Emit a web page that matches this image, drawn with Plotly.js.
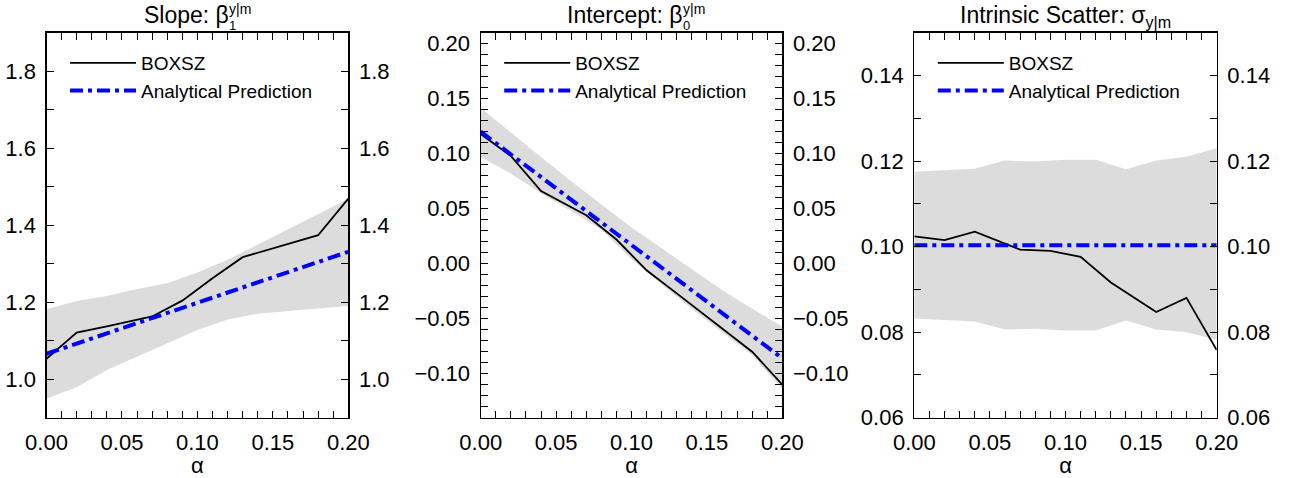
<!DOCTYPE html>
<html>
<head>
<meta charset="utf-8">
<script src="https://cdn.plot.ly/plotly-3.0.1.min.js"></script>
<style>html,body{margin:0;padding:0;background:#fff;}#chart{width:1292px;height:478px;}</style>
</head>
<body>
<div id="chart"></div>
<script>
// ---- data ----
const alphaLine = [0, 0.02, 0.04, 0.07, 0.09, 0.11, 0.13, 0.16, 0.18, 0.20];
const alphaPred = [0, 0.20];
const alphaBand = [0, 0.02, 0.04, 0.06, 0.08, 0.10, 0.12, 0.14, 0.16, 0.18, 0.20];

const slopeBoxsz = [1.053, 1.121, 1.137, 1.163, 1.204, 1.262, 1.317, 1.352, 1.374, 1.469];
const slopePred  = [1.066, 1.331];
const slopeLow   = [0.950, 0.979, 1.024, 1.059, 1.093, 1.128, 1.155, 1.170, 1.177, 1.184, 1.190];
const slopeHigh  = [1.182, 1.203, 1.216, 1.234, 1.249, 1.277, 1.310, 1.350, 1.390, 1.430, 1.469];

const interceptBoxsz = [0.118, 0.098, 0.066, 0.044, 0.022, -0.006, -0.027, -0.059, -0.080, -0.110];
const interceptPred  = [0.120, -0.086];
const interceptLow   = [0.097, 0.082, 0.064, 0.048, 0.031, 0.004, -0.019, -0.041, -0.062, -0.083, -0.114];
const interceptHigh  = [0.1415, 0.119, 0.097, 0.075, 0.054, 0.033, 0.014, -0.005, -0.024, -0.041, -0.057];

const scatterBoxsz = [0.1024, 0.1015, 0.1035, 0.0993, 0.0990, 0.0976, 0.0916, 0.0847, 0.0880, 0.0758];
const scatterPred  = [0.1003, 0.1003];
const scatterLow   = [0.0832, 0.0828, 0.0825, 0.0806, 0.0808, 0.0804, 0.0804, 0.0827, 0.0806, 0.0800, 0.0782];
const scatterHigh  = [0.1175, 0.1178, 0.1182, 0.1201, 0.1199, 0.1203, 0.1203, 0.1181, 0.1201, 0.1210, 0.1230];

const names = ["BOXSZ", "Analytical Prediction"];
const xTickLabels = ["0.00", "0.05", "0.10", "0.15", "0.20"];

// ---- layout helpers ----
const W = 1292, H = 478;
const FONT = "Liberation Sans, Arial, Helvetica, sans-serif";
const px = p => p / W;
const py = p => 1 - p / H;
const yDom = [py(417.7), py(32.7)];
const xDoms = [[px(46.5), px(348.3)], [px(480.7), px(782.3)], [px(914.3), px(1216.7)]];

const panels = [
  {low: slopeLow, high: slopeHigh, box: slopeBoxsz, pred: slopePred, range: [0.9, 1.9], dtick: 0.2, minor: 0.1, fmt: ".1f"},
  {low: interceptLow, high: interceptHigh, box: interceptBoxsz, pred: interceptPred, range: [-0.14, 0.21], dtick: 0.05, minor: 0.01, fmt: ".2f"},
  {low: scatterLow, high: scatterHigh, box: scatterBoxsz, pred: scatterPred, range: [0.06, 0.15], dtick: 0.02, minor: 0.01, fmt: ".2f"}
];

const traces = [];
const layout = {
  width: W, height: H,
  margin: {l: 0, r: 0, t: 0, b: 0},
  paper_bgcolor: "#fff", plot_bgcolor: "#fff",
  font: {family: FONT, color: "#000", size: 21},
  showlegend: true,
  annotations: []
};

const tickStyle = {ticks: "inside", ticklen: 7, tickwidth: 1, tickcolor: "#000"};

panels.forEach((p, i) => {
  const n = i + 1;
  const xa = n === 1 ? "x" : "x" + n;
  const ya = n === 1 ? "y" : "y" + n;
  const yr = "y" + (n + 3);
  const xt = "x" + (n + 3);
  const leg = n === 1 ? "legend" : "legend" + n;
  traces.push({x: alphaBand, y: p.low, xaxis: xa, yaxis: ya, mode: "lines", line: {width: 0, color: "rgba(0,0,0,0)"}, showlegend: false, hoverinfo: "skip"});
  traces.push({x: alphaBand, y: p.high, xaxis: xa, yaxis: ya, mode: "lines", fill: "tonexty", fillcolor: "#dcdcdc", line: {width: 0, color: "rgba(0,0,0,0)"}, showlegend: false, hoverinfo: "skip"});
  traces.push({x: alphaLine, y: p.box, xaxis: xa, yaxis: ya, mode: "lines", name: names[0], line: {color: "#000", width: 1.8}, legend: leg});
  traces.push({x: alphaPred, y: p.pred, xaxis: xa, yaxis: ya, mode: "lines", name: names[1], line: {color: "#0000ff", width: 4, dash: "13px,5px,4px,5px"}, legend: leg});
  // invisible helpers so that the right and top mirror axes are drawn
  traces.push({x: [0.1], y: [p.range[0]], xaxis: xa, yaxis: yr, mode: "markers", marker: {opacity: 0}, showlegend: false, hoverinfo: "skip"});
  traces.push({x: [0.1], y: [p.range[0]], xaxis: xt, yaxis: ya, mode: "markers", marker: {opacity: 0}, showlegend: false, hoverinfo: "skip"});

  const xKey = n === 1 ? "xaxis" : "xaxis" + n;
  const yKey = n === 1 ? "yaxis" : "yaxis" + n;
  const xCommon = Object.assign({
    range: [0, 0.2], fixedrange: true,
    tickmode: "array", tickvals: [0, 0.05, 0.1, 0.15, 0.2], ticktext: xTickLabels,
    minor: Object.assign({dtick: 0.01, tick0: 0}, tickStyle),
    showline: true, linecolor: "#000", linewidth: 1.2,
    showgrid: false, zeroline: false,
    tickfont: {size: 22, family: FONT}
  }, tickStyle);
  layout[xKey] = Object.assign({}, xCommon, {
    domain: xDoms[i], anchor: ya, side: "bottom", ticklabelstandoff: 5,
    title: {text: "α", font: {size: 22, family: FONT}, standoff: 3}
  });
  layout["xaxis" + (n + 3)] = Object.assign({}, xCommon, {
    domain: xDoms[i], anchor: ya, overlaying: xa, side: "top", showticklabels: false
  });
  const yCommon = Object.assign({
    range: p.range, fixedrange: true, dtick: p.dtick, tick0: 0, tickformat: p.fmt,
    minor: Object.assign({dtick: p.minor, tick0: 0}, tickStyle),
    showline: true, linecolor: "#000", linewidth: 1.2,
    showgrid: false, zeroline: false,
    tickfont: {size: 22, family: FONT}, ticklabelstandoff: 5
  }, tickStyle);
  layout[yKey] = Object.assign({}, yCommon, {domain: yDom, anchor: xa, side: "left"});
  layout["yaxis" + (n + 3)] = Object.assign({}, yCommon, {domain: yDom, anchor: xa, overlaying: ya, side: "right"});

  layout[leg] = {
    x: xDoms[i][0] + px(18.5), y: py(44), xanchor: "left", yanchor: "top",
    bgcolor: "rgba(0,0,0,0)", borderwidth: 0, traceorder: "normal",
    font: {size: 19, family: FONT, color: "#000"},
    itemwidth: 66, tracegroupgap: 0
  };
});

// panel titles (stacked super/subscripts as separate text pieces)
function ann(x, y, text, size, anchor) {
  return {xref: "paper", yref: "paper", x: px(x), y: py(y), xanchor: anchor || "left", yanchor: "middle",
          showarrow: false, borderpad: 0, text: text, font: {size: size, family: FONT, color: "#000"}};
}
layout.annotations.push(
  ann(143, 15, "Slope: β", 23),
  ann(228, 8.5, "y|m", 14),
  ann(227.5, 25.5, "1", 13),
  ann(566, 15, "Intercept: β", 23),
  ann(682, 8.5, "y|m", 14),
  ann(681.5, 25.5, "0", 13),
  ann((914.3 + 1216.7) / 2, 17, "Intrinsic Scatter: σ<sub>y|m</sub>", 23, "center")
);

Plotly.newPlot("chart", traces, layout, {staticPlot: true, displayModeBar: false});
</script>
</body>
</html>
